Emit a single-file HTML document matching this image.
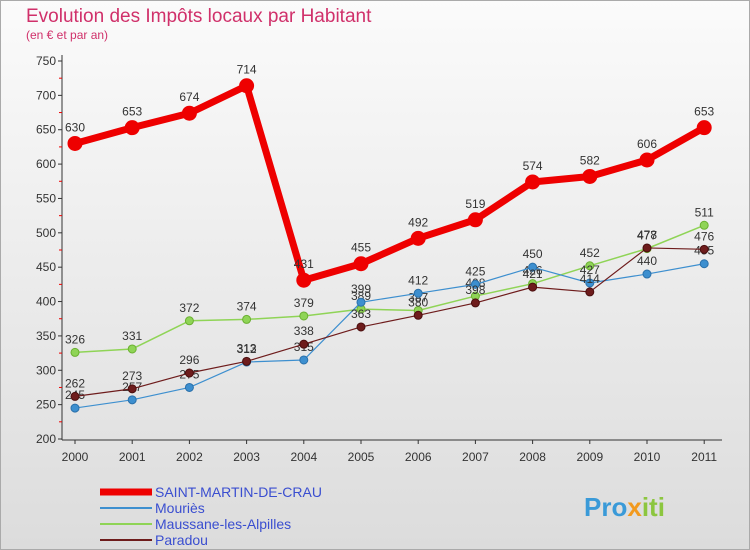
<!DOCTYPE html>
<html><head><meta charset="utf-8"><style>
body{margin:0;width:750px;height:550px;overflow:hidden;font-family:"Liberation Sans",sans-serif;}
svg{display:block}
</style></head><body>
<svg id="c" width="750" height="550" xmlns="http://www.w3.org/2000/svg">
<defs><linearGradient id="bg" x1="0" y1="0" x2="0" y2="1"><stop offset="0" stop-color="#fbfbfb"/><stop offset="1" stop-color="#dcdcdc"/></linearGradient></defs>
<rect x="0" y="0" width="750" height="550" fill="url(#bg)"/>
<rect x="0.5" y="0.5" width="749" height="549" fill="none" stroke="#aaa"/>
<text x="26" y="22" font-size="19" fill="#d0306a">Evolution des Impôts locaux par Habitant</text>
<text x="26" y="39" font-size="12" fill="#d0306a">(en € et par an)</text>
<g id="axes"></g><g id="series"></g><g id="legend"></g>
<text x="584" y="516" font-size="26" font-weight="bold" fill="#3a9ad8">Pro<tspan fill="#f29a1e">x</tspan><tspan fill="#8cc63f">iti</tspan></text>
</svg>
<script>
const years=["2000","2001","2002","2003","2004","2005","2006","2007","2008","2009","2010","2011"];
const yTicks=[200,250,300,350,400,450,500,550,600,650,700,750];
const smdc=[630,653,674,714,431,455,492,519,574,582,606,653];
const mouries=[245,257,275,312,315,399,412,425,450,427,440,455];
const maussane=[326,331,372,374,379,389,387,408,426,452,477,511];
const paradou=[262,273,296,313,338,363,380,398,421,414,478,476];
const NS="http://www.w3.org/2000/svg";
const X=i=>75+i*57.2;
const Y=v=>439-(v-200)*378/550;
function mk(t,a,p){const e=document.createElementNS(NS,t);for(const k in a)e.setAttribute(k,a[k]);p.appendChild(e);return e;}
const ax=document.getElementById('axes');
const yl=mk('line',{x1:62,y1:55,x2:62,y2:440,stroke:'#333'},ax);


const xl=mk('line',{x1:62,y1:440,x2:722,y2:440,stroke:'#333'},ax);


yTicks.forEach(v=>{
 const t=mk('text',{x:56,y:Y(v)+4,'font-size':12,'text-anchor':'end',fill:'#333'},ax);t.textContent=v;
 
 
 mk('line',{x1:58,y1:Y(v),x2:62,y2:Y(v),stroke:'#333'},ax);
 if(v<750){mk('line',{x1:59,y1:Y(v+25),x2:62,y2:Y(v+25),stroke:'#e00'},ax);}
});
years.forEach((y,i)=>{
 mk('line',{x1:X(i),y1:440,x2:X(i),y2:444,stroke:'#333'},ax);
 const t=mk('text',{x:X(i),y:461,'font-size':12,'text-anchor':'middle',fill:'#333'},ax);t.textContent=y;
 
 
});
const sg=document.getElementById('series');
function draw(data,color,w,r,name,stroke){
 const g=mk('g',{},sg);
 
 
 mk('polyline',{points:data.map((v,i)=>X(i)+','+Y(v)).join(' '),fill:'none',stroke:color,'stroke-width':w,'stroke-linejoin':'round'},g);
 data.forEach((v,i)=>{
  const c=mk('circle',{cx:X(i),cy:Y(v),r:r,fill:color,stroke:stroke,'stroke-width':1},g);
  
  
  const t=mk('text',{x:X(i),y:Y(v)-(r+5),'font-size':12,'text-anchor':'middle',fill:'#333'},g);t.textContent=v;
  
  
 });
}
draw(maussane,'#8fd456',1.5,4,'series-maussane','#6ab030');
draw(mouries,'#3d8fcf',1.2,4,'series-mouries','#2a70aa');
draw(paradou,'#6e1c1c',1.2,4,'series-paradou','#4a0e0e');
draw(smdc,'#ee0000',7,7,'series-saint-martin','#ee0000');
const lg=document.getElementById('legend');
const items=[["SAINT-MARTIN-DE-CRAU","#ee0000",7],["Mouriès","#3d8fcf",2],["Maussane-les-Alpilles","#8fd456",2],["Paradou","#6e1c1c",2]];
items.forEach((it,i)=>{
 const y=492+i*16;
 const g=mk('g',{},lg);
 
 
 mk('line',{x1:100,y1:y,x2:152,y2:y,stroke:it[1],'stroke-width':it[2]},g);
 const t=mk('text',{x:155,y:y+5,'font-size':14,fill:'#3a4ed0'},g);t.textContent=it[0];
});
</script>
</body></html>
